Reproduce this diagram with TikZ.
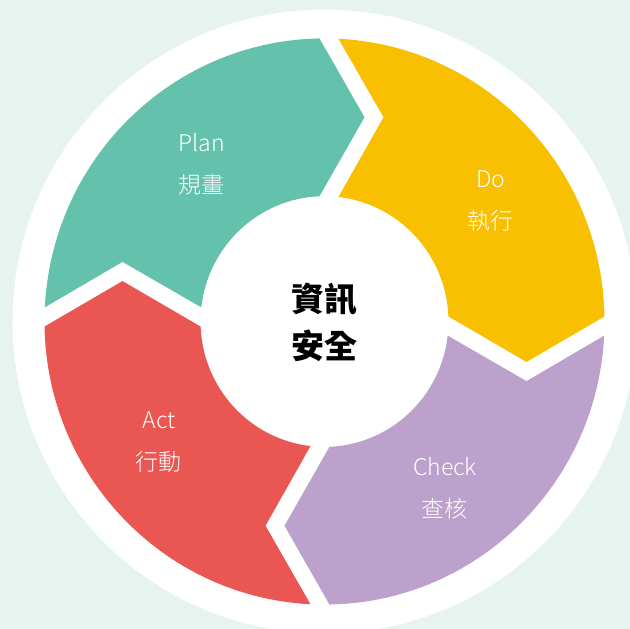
\documentclass[tikz,border=0pt]{standalone}
\usepackage{fontspec}
\setmainfont{Noto Sans CJK TC}
\newfontfamily\lightcjk{Noto Sans CJK TC Light}
\definecolor{bgmint}{HTML}{E7F3EF}
\definecolor{planteal}{HTML}{64C1AC}
\definecolor{doyellow}{HTML}{F9C001}
\definecolor{checkpurple}{HTML}{BBA1CB}
\definecolor{actred}{HTML}{EA5651}

\begin{document}
\begin{tikzpicture}[x=1pt, y=1pt]
    \tikzstyle{step label}=[text=white, align=center, font=\lightcjk\fontsize{23}{42}\selectfont]
    \tikzstyle{core label}=[text=black, align=center, font=\fontsize{33}{47}\selectfont\bfseries]

    \fill[bgmint] (-324.5,-307.5) rectangle (305.5,321.5);
    \useasboundingbox (-324.5,-307.5) rectangle (305.5,321.5);
    \fill[white] (0,0) circle (312);

    % four arrow segments, each one turned a quarter further
    \begin{scope}[yscale=1.011]
    \foreach \ang/\col in {0/planteal, -90/doyellow, -180/checkpurple, -270/actred} {
        \begin{scope}[rotate=\ang]
        \fill[\col] (177.13:280) arc[start angle=177.13, end angle=91.02, radius=280]
            -- (40,202) -- (92.31:124)
            arc[start angle=92.31, end angle=173.52, radius=124]
            -- (-202,59) -- cycle;
        \end{scope}
    }
    \end{scope}

    \node[core label] (core) at (0,-1) {資訊\\安全};
    \node[step label] (plan) at (-122.5,157.5) {Plan\\規畫};
    \node[step label] (do) at (166.5,120) {Do\\執行};
    \node[step label] (check) at (120.5,-167) {Check\\查核};
    \node[step label] (act) at (-165.5,-120.5) {Act\\行動};
\end{tikzpicture}
\end{document}
